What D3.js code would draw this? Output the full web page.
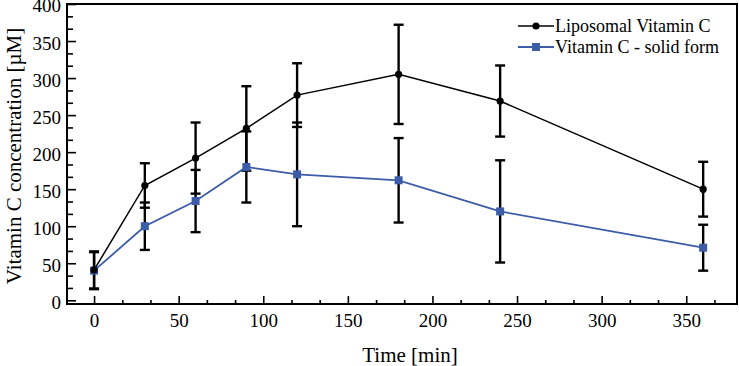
<!DOCTYPE html>
<html>
<head>
<meta charset="utf-8">
<script src="https://cdn.jsdelivr.net/npm/d3@7"></script>
<style>
  body { margin: 0; background: #fff; }
  svg { display: block; }
</style>
</head>
<body>
<div id="chart"></div>
<script>
// Data
const times = [0, 30, 60, 90, 120, 180, 240, 360];
const liposomal = [41, 155, 192, 232, 277, 305, 269, 150];
const liposomalErr = [25, 30, 48, 57, 43, 67, 48, 37];
const solid = [40, 100, 134, 180, 170, 162, 120, 71];
const solidErr = [25, 32, 42, 48, 70, 57, 69, 31];

const xTicks = [0, 50, 100, 150, 200, 250, 300, 350];
const yTicks = [0, 50, 100, 150, 200, 250, 300, 350, 400];
const seriesNames = ["Liposomal Vitamin C", "Vitamin C - solid form"];

const width = 739, height = 366;
const blue = "#3c5ca8";
const serif = "'Liberation Serif', 'Times New Roman', serif";

const svg = d3.select("#chart").append("svg")
    .attr("width", width)
    .attr("height", height);

// Scales
const x = d3.scaleLinear().domain([-16, 380]).range([67, 737]);
const y = d3.scaleLinear().domain([-5, 400]).range([304, 4]);

// Minor ticks: two between each major
const minorX = d3.range(0, 380, 50 / 3).filter((v, i) => i % 3 !== 0);
const minorY = d3.range(0, 400, 50 / 3).filter((v, i) => i % 3 !== 0);

// Axes (ticks pointing inward)
svg.append("g")
    .attr("transform", `translate(0,${y.range()[0]})`)
    .call(d3.axisBottom(x).tickValues(xTicks).tickSize(-8).tickPadding(10).tickSizeOuter(0));
svg.append("g")
    .attr("transform", `translate(0,${y.range()[0]})`)
    .call(d3.axisBottom(x).tickValues(minorX).tickSize(-4).tickFormat("").tickSizeOuter(0));

const yAxis = svg.append("g")
    .attr("transform", `translate(${x.range()[0]},0)`)
    .call(d3.axisLeft(y).tickValues(yTicks).tickSize(-9).tickPadding(6).tickSizeOuter(0));
svg.append("g")
    .attr("transform", `translate(${x.range()[0]},0)`)
    .call(d3.axisLeft(y).tickValues(minorY).tickSize(-6).tickFormat("").tickSizeOuter(0));

svg.selectAll(".domain").remove();
svg.selectAll(".tick line").attr("stroke", "#000").attr("stroke-width", 1.6);
svg.selectAll(".tick text")
    .style("font-family", serif)
    .style("font-size", "19px")
    .attr("fill", "#000");
yAxis.selectAll(".tick text").attr("dy", "0.42em");

// Frame
svg.append("rect")
    .attr("x", x.range()[0])
    .attr("y", y.range()[1])
    .attr("width", x.range()[1] - x.range()[0])
    .attr("height", y.range()[0] - y.range()[1])
    .attr("fill", "none")
    .attr("stroke", "#000")
    .attr("stroke-width", 2);

// Error bars
const rows = times.map((t, i) => ({
    t,
    lipo: liposomal[i], lipoErr: liposomalErr[i],
    solid: solid[i], solidErr: solidErr[i]
}));
const capW = 5;
const errLayer = svg.append("g").attr("stroke", "#000").attr("stroke-width", 2.4);
[["solid", "solidErr"], ["lipo", "lipoErr"]].forEach(([k, e]) => {
    const g = errLayer.selectAll(`.err-${k}`).data(rows).enter().append("g");
    g.append("line")
        .attr("x1", d => x(d.t)).attr("x2", d => x(d.t))
        .attr("y1", d => y(d[k] - d[e])).attr("y2", d => y(d[k] + d[e]));
    g.append("line")
        .attr("x1", d => x(d.t) - capW).attr("x2", d => x(d.t) + capW)
        .attr("y1", d => y(d[k] + d[e])).attr("y2", d => y(d[k] + d[e]));
    g.append("line")
        .attr("x1", d => x(d.t) - capW).attr("x2", d => x(d.t) + capW)
        .attr("y1", d => y(d[k] - d[e])).attr("y2", d => y(d[k] - d[e]));
});

// Lines
const line = d3.line().x(d => x(d[0])).y(d => y(d[1]));
svg.append("path")
    .datum(times.map((t, i) => [t, solid[i]]))
    .attr("d", line)
    .attr("fill", "none")
    .attr("stroke", blue)
    .attr("stroke-width", 1.8);
svg.append("path")
    .datum(times.map((t, i) => [t, liposomal[i]]))
    .attr("d", line)
    .attr("fill", "none")
    .attr("stroke", "#000")
    .attr("stroke-width", 1.5);

// Markers
svg.selectAll(".sq").data(rows).enter().append("rect")
    .attr("x", d => x(d.t) - 4)
    .attr("y", d => y(d.solid) - 4)
    .attr("width", 8).attr("height", 8)
    .attr("fill", blue);
svg.selectAll(".dot").data(rows).enter().append("circle")
    .attr("cx", d => x(d.t))
    .attr("cy", d => y(d.lipo))
    .attr("r", 3.6)
    .attr("fill", "#000");

// Legend
const legend = svg.append("g").attr("transform", "translate(518,0)");
seriesNames.forEach((name, i) => {
    const ly = 26 + i * 21;
    const col = i === 0 ? "#000" : blue;
    legend.append("line")
        .attr("x1", 0).attr("x2", 36)
        .attr("y1", ly).attr("y2", ly)
        .attr("stroke", col).attr("stroke-width", i === 0 ? 1.5 : 1.8);
    if (i === 0) {
        legend.append("circle").attr("cx", 18).attr("cy", ly).attr("r", 3.6).attr("fill", col);
    } else {
        legend.append("rect").attr("x", 14).attr("y", ly - 4).attr("width", 8).attr("height", 8).attr("fill", col);
    }
    legend.append("text")
        .attr("x", 37).attr("y", ly)
        .attr("dy", "0.33em")
        .style("font-family", serif)
        .style("font-size", "18px")
        .text(name);
});

// Axis titles
svg.append("text")
    .attr("x", (x.range()[0] + x.range()[1]) / 2 + 8)
    .attr("y", 362)
    .attr("text-anchor", "middle")
    .style("font-family", serif)
    .style("font-size", "21px")
    .text("Time [min]");

svg.append("text")
    .attr("transform", `translate(21,${(y.range()[0] + y.range()[1]) / 2 + 2}) rotate(-90)`)
    .attr("text-anchor", "middle")
    .style("font-family", serif)
    .style("font-size", "21px")
    .text("Vitamin C concentration [µM]");
</script>
</body>
</html>
